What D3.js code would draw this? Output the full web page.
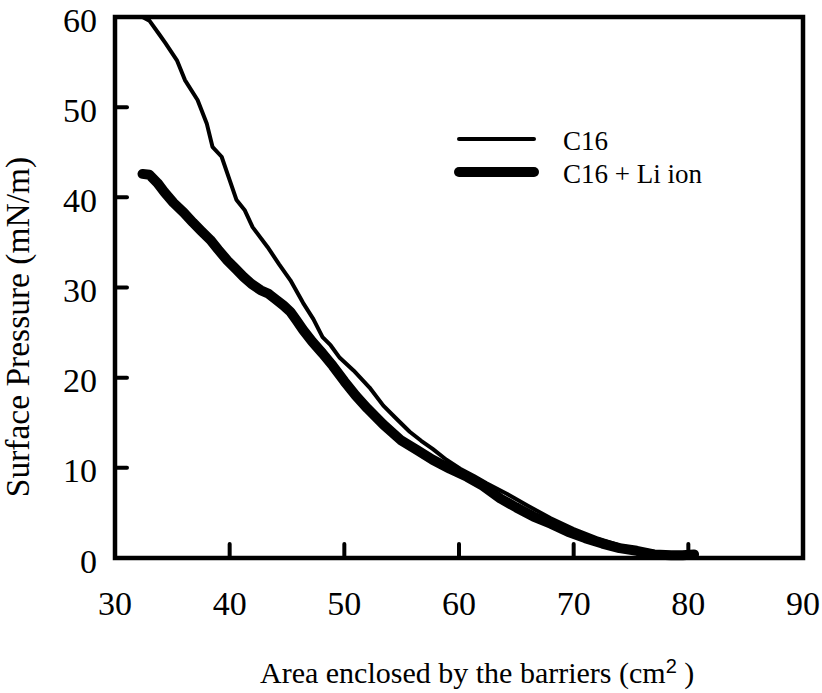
<!DOCTYPE html>
<html>
<head>
<meta charset="utf-8">
<script src="https://cdn.jsdelivr.net/npm/d3@7"></script>
<style>
  html, body { margin: 0; padding: 0; background: #fff; }
  svg { display: block; }
  text { font-family: "Liberation Serif", "Times New Roman", serif; fill: #000; }
</style>
</head>
<body>
<svg id="chart" width="822" height="693"></svg>
<script>
// ---- data ----
const xTicks = [30, 40, 50, 60, 70, 80, 90];
const yTicks = [0, 10, 20, 30, 40, 50, 60];
const seriesNames = ["C16", "C16 + Li ion"];

const c16Area = [32.4, 33.0, 33.9, 34.4, 35.4, 36.1, 37.2, 38.0, 38.5, 39.3, 40.0, 40.6, 41.3, 42.0, 43.3, 44.3, 45.3, 46.4, 47.3, 48.1, 48.8, 49.6, 50.8, 52.2, 53.4, 54.5, 55.7, 56.7, 57.7, 58.9, 60.1, 61.3, 62.4, 64.2, 66.0, 68.0, 70.0, 72.0, 74.0, 76.0, 78.0, 79.5, 80.5];
const c16Pressure = [60.0, 59.6, 58.0, 57.1, 55.2, 53.0, 50.8, 48.2, 45.6, 44.5, 41.9, 39.7, 38.6, 36.7, 34.5, 32.6, 30.8, 28.3, 26.5, 24.5, 23.6, 22.2, 20.8, 18.9, 16.9, 15.5, 14.0, 13.0, 12.1, 10.9, 9.9, 9.1, 8.3, 7.1, 5.8, 4.4, 3.2, 2.2, 1.4, 0.9, 0.5, 0.3, 0.2];

const liArea = [32.4, 33.0, 33.7, 34.3, 35.1, 36.0, 36.8, 37.5, 38.3, 39.0, 39.8, 40.5, 41.2, 41.9, 42.7, 43.4, 44.1, 44.7, 45.3, 45.8, 46.4, 47.2, 48.1, 49.0, 50.0, 51.0, 52.0, 53.4, 54.9, 56.3, 57.7, 59.2, 60.7, 62.1, 63.6, 65.0, 66.5, 68.0, 69.5, 71.0, 72.5, 74.0, 75.5, 77.0, 78.5, 79.5, 80.5];
const liPressure = [42.6, 42.5, 41.6, 40.6, 39.4, 38.3, 37.2, 36.3, 35.3, 34.2, 33.0, 32.1, 31.2, 30.4, 29.7, 29.3, 28.6, 28.0, 27.3, 26.4, 25.3, 24.0, 22.7, 21.3, 19.6, 18.0, 16.6, 14.8, 13.1, 12.0, 10.9, 9.9, 9.0, 8.0, 6.6, 5.6, 4.6, 3.8, 2.9, 2.2, 1.6, 1.1, 0.8, 0.4, 0.3, 0.3, 0.4];

// ---- layout ----
const L = 115, R = 803, T = 17, B = 558;
const svg = d3.select("#chart");
const x = d3.scaleLinear().domain([30, 90]).range([L, R]);
const y = d3.scaleLinear().domain([0, 60]).range([B, T]);

const c16 = c16Area.map((a, i) => [a, c16Pressure[i]]);
const li = liArea.map((a, i) => [a, liPressure[i]]);
const line = d3.line().x(d => x(d[0])).y(d => y(d[1]));

// inside ticks
svg.append("g").selectAll("line").data(xTicks.filter(t => t > 30 && t < 90)).join("line")
  .attr("x1", d => x(d)).attr("x2", d => x(d))
  .attr("y1", B).attr("y2", B - 14)
  .attr("stroke", "#000").attr("stroke-width", 4).attr("stroke-linecap", "round");
svg.append("g").selectAll("line").data(yTicks.filter(t => t > 0 && t < 60)).join("line")
  .attr("x1", L).attr("x2", L + 12)
  .attr("y1", d => y(d)).attr("y2", d => y(d))
  .attr("stroke", "#000").attr("stroke-width", 4).attr("stroke-linecap", "round");

// data lines
svg.append("path").datum(c16).attr("d", line)
  .attr("fill", "none").attr("stroke", "#000").attr("stroke-width", 4)
  .attr("stroke-linejoin", "round").attr("stroke-linecap", "round");
svg.append("path").datum(li).attr("d", line)
  .attr("fill", "none").attr("stroke", "#000").attr("stroke-width", 10)
  .attr("stroke-linejoin", "round").attr("stroke-linecap", "round");

// frame
svg.append("rect").attr("x", L).attr("y", T).attr("width", R - L).attr("height", B - T)
  .attr("fill", "none").attr("stroke", "#000").attr("stroke-width", 4.5);

// tick labels
svg.append("g").selectAll("text").data(xTicks).join("text")
  .attr("x", d => x(d)).attr("y", 615)
  .attr("text-anchor", "middle").attr("font-size", 34)
  .text(d => d);
svg.append("g").selectAll("text").data(yTicks).join("text")
  .attr("x", 97).attr("y", d => y(d) + 14.5)
  .attr("text-anchor", "end").attr("font-size", 34)
  .text(d => d);

// y title
svg.append("text")
  .attr("transform", "translate(29,327) rotate(-90)")
  .attr("text-anchor", "middle").attr("font-size", 33.5)
  .text("Surface Pressure (mN/m)");

// x title with superscript (single text element)
const xt = svg.append("text").attr("x", 260).attr("y", 683).attr("font-size", 30);
xt.append("tspan").text("Area enclosed by the barriers (cm");
xt.append("tspan").attr("dx", 0).attr("dy", -10).attr("font-size", 20)
  .style("font-family", "'Liberation Sans', Arial, sans-serif").text("2");
xt.append("tspan").attr("dy", 10).text(" )");

// legend
const legY = [139, 172];
const legW = [4, 10];
seriesNames.forEach((name, i) => {
  svg.append("line").attr("x1", 459).attr("x2", 534)
    .attr("y1", legY[i]).attr("y2", legY[i])
    .attr("stroke", "#000").attr("stroke-width", legW[i]).attr("stroke-linecap", "round");
  svg.append("text").attr("x", 563).attr("y", legY[i] + 11)
    .attr("font-size", 27).text(name);
});
</script>
</body>
</html>
